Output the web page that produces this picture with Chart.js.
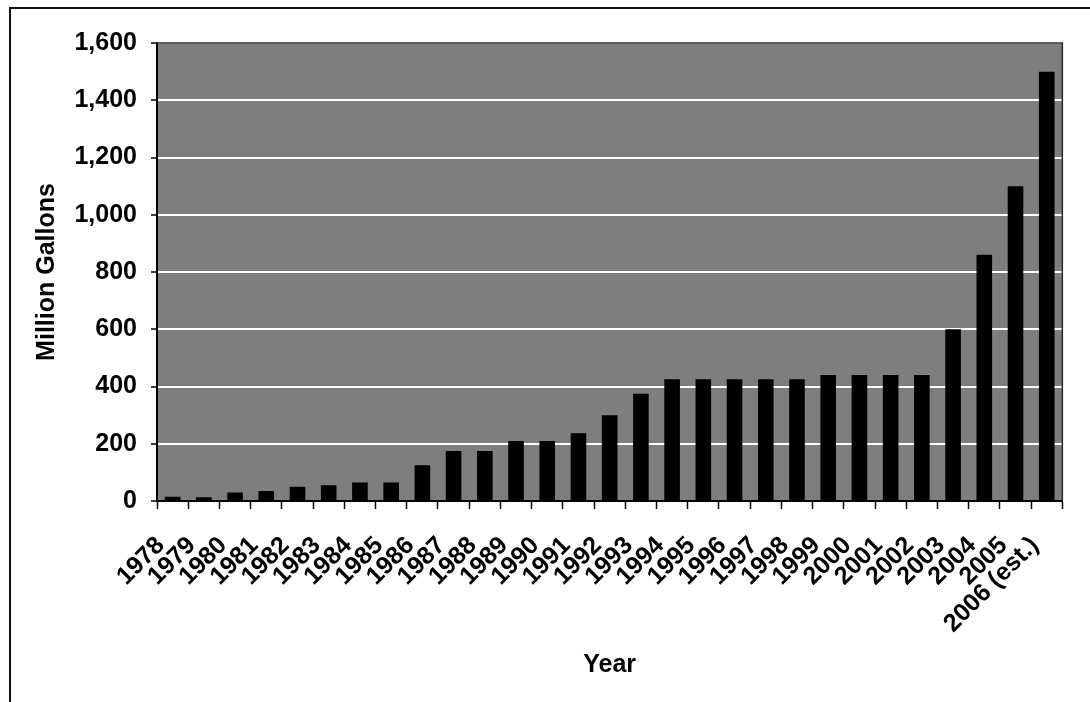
<!DOCTYPE html>
<html>
<head>
<meta charset="utf-8">
<script src="https://cdn.jsdelivr.net/npm/chart.js@4/dist/chart.umd.min.js"></script>
<style>
  html, body { margin: 0; padding: 0; background: #ffffff; }
  #wrap { position: relative; width: 1090px; height: 702px; }
  #frame { position: absolute; left: 9px; top: 7px; right: 0; bottom: 0;
           border-left: 2px solid #111; border-top: 2px solid #111; pointer-events: none; }
  canvas { position: absolute; left: 0; top: 0; }
</style>
</head>
<body>
<div id="wrap">
  <canvas id="c" width="1090" height="702"></canvas>
  <div id="frame"></div>
</div>
<script>
// Annual production, million gallons
const years = ['1978','1979','1980','1981','1982','1983','1984','1985','1986','1987',
               '1988','1989','1990','1991','1992','1993','1994','1995','1996','1997',
               '1998','1999','2000','2001','2002','2003','2004','2005','2006 (est.)'];
const gallons = [15, 13, 30, 35, 50, 55, 65, 65, 125, 175,
                 175, 210, 210, 237, 300, 375, 425, 425, 425, 425,
                 425, 440, 440, 440, 440, 600, 860, 1100, 1500];
const yMin = 0, yMax = 1600, yStep = 200;

const FONT = "'Liberation Sans', Arial, sans-serif";

// Grey plot background and dark frame around the plotting area
const plotArea = {
  id: 'plotArea',
  beforeDraw(chart) {
    const { ctx, chartArea: a } = chart;
    ctx.save();
    ctx.fillStyle = '#7e7e7e';
    ctx.fillRect(a.left, a.top, a.right - a.left, a.bottom - a.top);
    ctx.restore();
  },
  afterDatasetsDraw(chart) {
    const { ctx, chartArea: a } = chart;
    ctx.save();
    ctx.strokeStyle = '#2a2a2a';
    ctx.lineWidth = 1.5;
    ctx.beginPath();
    ctx.moveTo(a.left, a.top);
    ctx.lineTo(a.right, a.top);
    ctx.lineTo(a.right, a.bottom);
    ctx.stroke();
    ctx.restore();
  }
};

new Chart(document.getElementById('c'), {
  type: 'bar',
  data: {
    labels: years,
    datasets: [{
      data: gallons,
      backgroundColor: '#000000',
      borderWidth: 0,
      categoryPercentage: 1.0,
      barPercentage: 0.5
    }]
  },
  options: {
    responsive: false,
    animation: false,
    layout: { padding: { left: 0, top: 43, right: 3, bottom: 0 } },
    plugins: { legend: { display: false }, tooltip: { enabled: false } },
    scales: {
      x: {
        grid: { offset: true, drawOnChartArea: false, tickLength: 8, tickColor: '#000', tickWidth: 1.5 },
        border: { color: '#000', width: 2 },
        ticks: {
          autoSkip: false, minRotation: 45, maxRotation: 45,
          color: '#000', padding: 22, labelOffset: -12,
          font: { family: FONT, size: 25, weight: 'bold' }
        },
        title: {
          display: true, text: 'Year', color: '#000',
          font: { family: FONT, size: 25, weight: 'bold' },
          padding: { top: 0, bottom: 22 }
        },
        afterFit(s) { s.height = 201; }
      },
      y: {
        min: yMin, max: yMax,
        grid: { color: '#ffffff', lineWidth: 2, tickLength: 6, tickColor: '#000', tickWidth: 1.5 },
        border: { color: '#000', width: 2 },
        ticks: {
          stepSize: yStep, color: '#000', padding: 14,
          font: { family: FONT, size: 25, weight: 'bold' },
          callback: v => v.toLocaleString('en-US')
        },
        title: {
          display: true, text: 'Million Gallons', color: '#000',
          font: { family: FONT, size: 25, weight: 'bold' },
          padding: { top: 32, bottom: 0 }
        },
        afterFit(s) { s.width = 157; }
      }
    }
  },
  plugins: [plotArea]
});
</script>
</body>
</html>
